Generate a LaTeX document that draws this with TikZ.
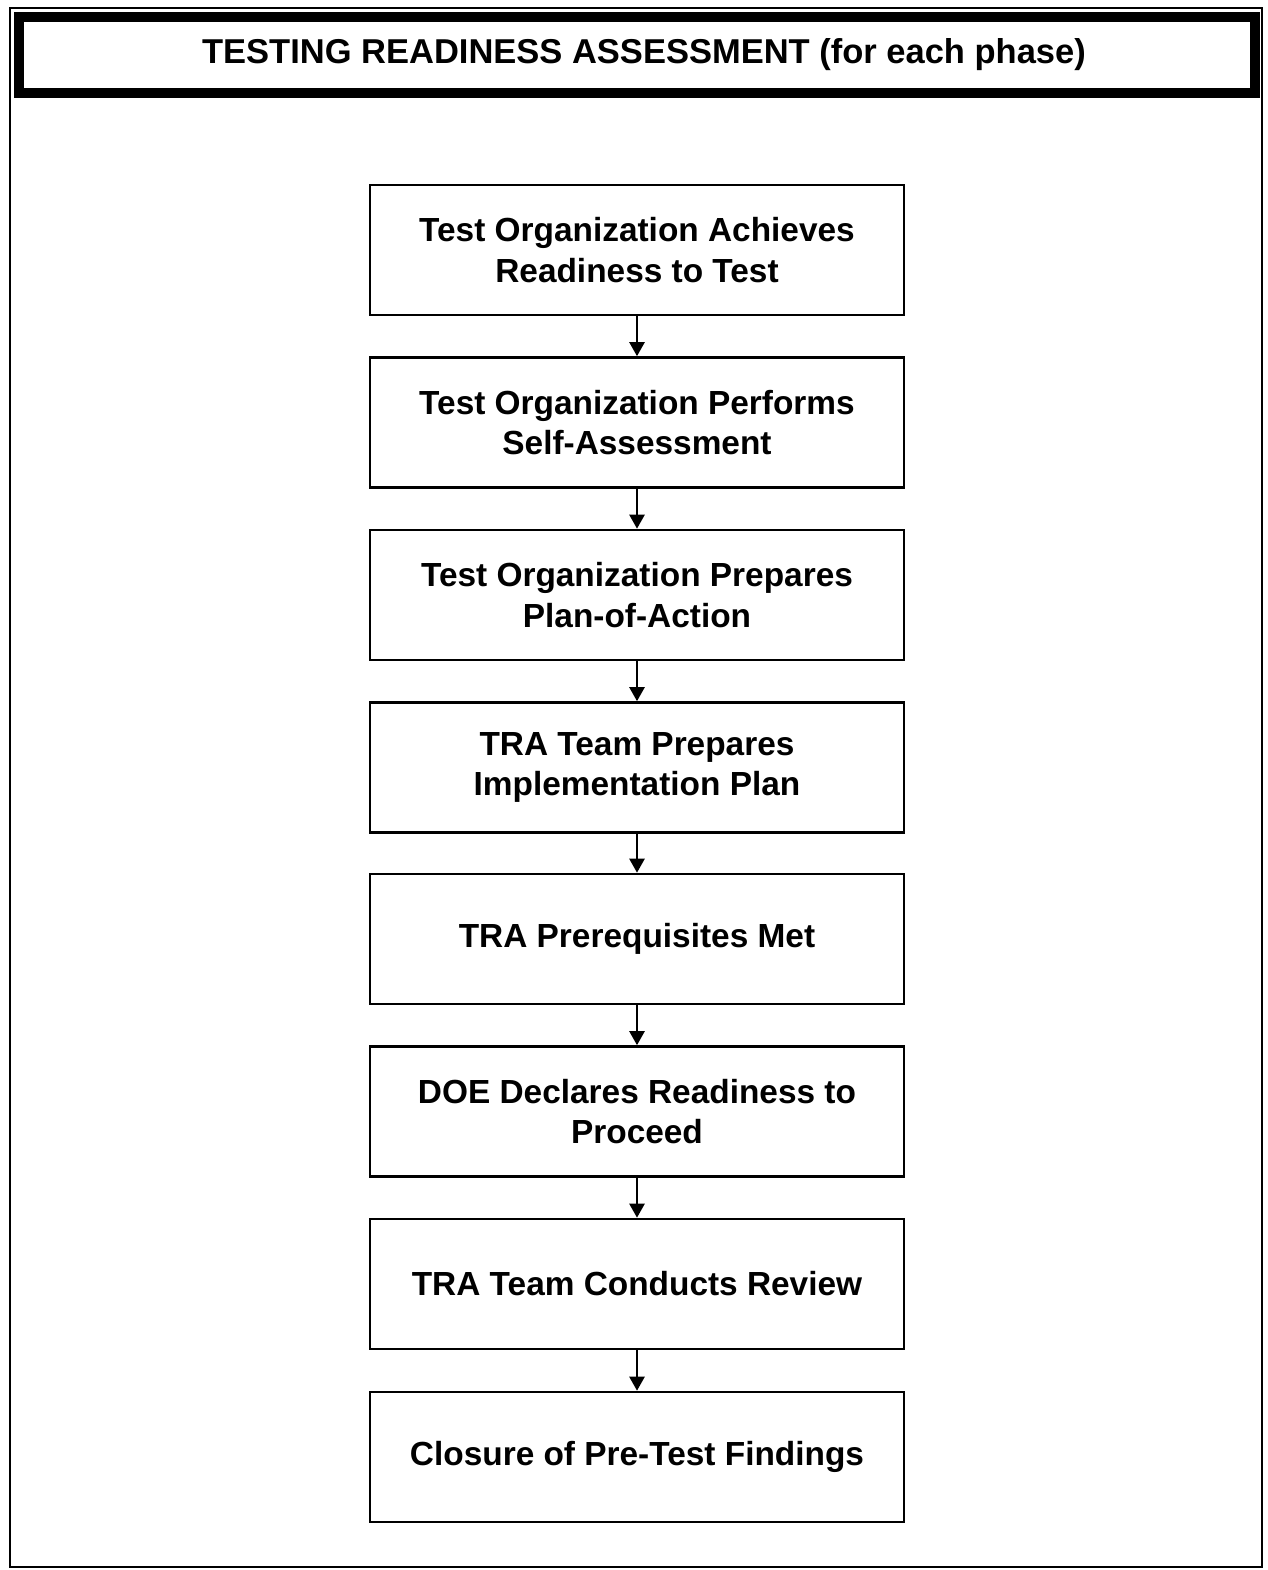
\documentclass[tikz,border=0pt]{standalone}
\usepackage{fontspec}
\setmainfont{Liberation Sans}
\usetikzlibrary{arrows.meta}
\begin{document}
\begin{tikzpicture}[x=1pt,y=-1pt,
  stepbox/.style={draw, line width=2.6pt, minimum width=534pt, minimum height=130pt, align=center, inner sep=0pt,
    font=\fontsize{33.4}{40.5}\selectfont\bfseries},
  flow/.style={line width=2.4pt, -{Triangle[length=14pt,width=15pt]}}]
\useasboundingbox (0,0) rectangle (1267,1570);
\draw[line width=2.5pt] (10,8) rectangle (1262,1567);
\node[draw, line width=10pt, minimum width=1236pt, minimum height=76pt, inner sep=0pt,
  font=\fontsize{34.5}{38}\selectfont\bfseries] (title) at (636.5,55) {\hspace*{15pt}TESTING READINESS ASSESSMENT (for each phase)};
\node[stepbox] (b1) at (637,250) {Test Organization Achieves\\Readiness to Test};
\node[stepbox] (b2) at (637,422.5) {Test Organization Performs\\Self-Assessment};
\node[stepbox] (b3) at (637,595) {Test Organization Prepares\\Plan-of-Action};
\node[stepbox] (b4) at (637,767.5) {TRA Team Prepares\\Implementation Plan};
\node[stepbox] (b5) at (637,939) {TRA Prerequisites Met};
\node[stepbox] (b6) at (637,1111.5) {DOE Declares Readiness to\\Proceed};
\node[stepbox] (b7) at (637,1284) {TRA Team Conducts Review};
\node[stepbox] (b8) at (637,1457) {Closure of Pre-Test Findings};
\foreach \a/\b in {b1/b2,b2/b3,b3/b4,b4/b5,b5/b6,b6/b7,b7/b8}
  \draw[flow] (\a.south) -- (\b.north);
\end{tikzpicture}
\end{document}
